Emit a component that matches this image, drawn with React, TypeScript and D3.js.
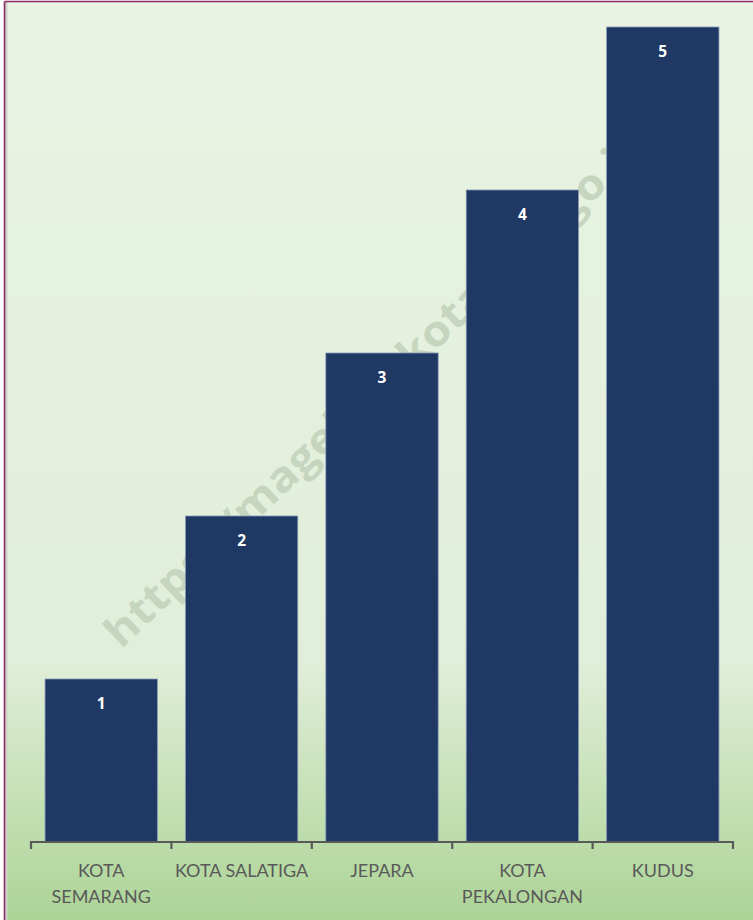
import React from "react";
import * as d3 from "d3";

const categories: string[][] = [
  ["KOTA", "SEMARANG"],
  ["KOTA SALATIGA"],
  ["JEPARA"],
  ["KOTA", "PEKALONGAN"],
  ["KUDUS"],
];
const values: number[] = [1, 2, 3, 4, 5];
const watermark = "https://magelangkota.bps.go.id";

const W = 753;
const H = 920;

export default function App() {
  const x = d3
    .scaleBand<number>()
    .domain(values.map((_, i) => i))
    .range([31, 733])
    .paddingInner(0.2)
    .paddingOuter(0.1);
  const y = d3.scaleLinear().domain([0, 5]).range([842, 27]);
  const step = x.step();
  const ticks = d3.range(values.length + 1).map((i) => 31 + i * step);
  const font = "Lato, 'Open Sans', sans-serif";

  return (
    <div style={{ position: "absolute", left: 0, top: 0 }}>
      <svg width={W} height={H} style={{ display: "block" }}>
        <defs>
          <linearGradient id="bg" x1="0" y1="0" x2="0" y2="1">
            <stop offset="0%" stopColor="#e9f4e4" />
            <stop offset="72%" stopColor="#e1eed9" />
            <stop offset="100%" stopColor="#acd496" />
          </linearGradient>
        </defs>
        <rect x={0} y={0} width={W} height={H} fill="#ffffff" />
        <rect x={5} y={2} width={W - 5} height={H - 2} fill="url(#bg)" />
        <rect x={5} y={2} width={2.5} height={H - 2} fill="#cfd3cc" />
        <line x1={4.5} y1={1.5} x2={W} y2={1.5} stroke="#8c2a63" strokeWidth={1.6} />
        <line x1={4.5} y1={1.5} x2={4.5} y2={H} stroke="#8c2a63" strokeWidth={1.6} />
        <text
          x={0}
          y={0}
          transform="translate(378,390) rotate(-43.5)"
          textAnchor="middle"
          dominantBaseline="middle"
          fontFamily="'Open Sans', sans-serif"
          fontWeight={700}
          fontSize={42}
          fill="#c6d6be"
          textLength={730}
          lengthAdjust="spacingAndGlyphs"
        >
          {watermark}
        </text>
        {values.map((v, i) => (
          <g key={i}>
            <rect
              x={x(i)!}
              y={y(v)}
              width={x.bandwidth()}
              height={y(0) - y(v)}
              fill="#1f3864"
              stroke="#8497b8"
              strokeWidth={0.8}
            />
            <text
              x={x(i)! + x.bandwidth() / 2}
              y={y(v) + 30}
              textAnchor="middle"
              fontFamily="'Open Sans', sans-serif"
              fontWeight={700}
              fontSize={15.5}
              fill="#ffffff"
            >
              {v}
            </text>
          </g>
        ))}
        <line x1={31} y1={842} x2={733} y2={842} stroke="#595959" strokeWidth={2.2} />
        {ticks.map((t, i) => (
          <line key={i} x1={t} y1={841} x2={t} y2={849} stroke="#595959" strokeWidth={2.2} />
        ))}
        {categories.map((lines, i) =>
          lines.map((ln, j) => (
            <text
              key={i + "-" + j}
              x={x(i)! + x.bandwidth() / 2}
              y={877 + j * 26}
              textAnchor="middle"
              fontFamily={font}
              fontSize={18}
              fill="#595959"
            >
              {ln}
            </text>
          ))
        )}
      </svg>
    </div>
  );
}
